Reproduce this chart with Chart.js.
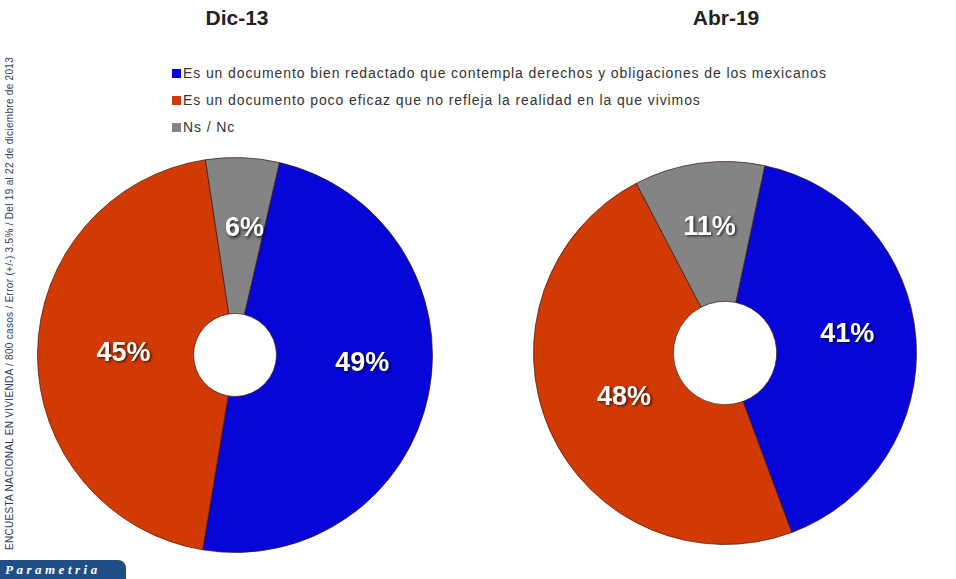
<!DOCTYPE html>
<html>
<head>
<meta charset="utf-8">
<script src="https://cdn.jsdelivr.net/npm/chart.js@4.4.0/dist/chart.umd.min.js"></script>
<style>
  html, body { margin:0; padding:0; background:#fff; }
  body { width:956px; height:579px; position:relative; overflow:hidden; font-family:"Liberation Sans Narrow","Liberation Sans",sans-serif; }
  .title { position:absolute; top:6px; font: bold 21px "Liberation Sans Narrow","Liberation Sans",sans-serif; color:#222; transform:translateX(-50%); }
  #legend { position:absolute; left:172px; top:63px; font-size:14px; color:#333; letter-spacing:0.9px; }
  #legend div { height:27px; line-height:20px; white-space:nowrap; }
  #legend span.sw { display:inline-block; width:9px; height:9px; margin-right:2px; vertical-align:0px; }
  canvas { position:absolute; }
  #side { position:absolute; left:-291px; top:298px; width:600px; transform:rotate(-90deg); font:10px "Liberation Sans Narrow","Liberation Sans",sans-serif; letter-spacing:0.3px; color:#2c3d66; text-align:center; white-space:nowrap; }
  #logo { position:absolute; left:0; top:560px; width:126px; height:20px; background:#1f4f86; border-radius:0 8px 0 0; color:#fff; font:italic bold 13px "Liberation Serif",serif; letter-spacing:3.5px; line-height:20px; padding-left:5px; box-sizing:border-box; }
</style>
</head>
<body>
<div class="title" style="left:237px">Dic-13</div>
<div class="title" style="left:726px">Abr-19</div>
<div id="legend"></div>
<div id="side">ENCUESTA NACIONAL EN VIVIENDA / 800 casos / Error (+/-) 3.5% / Del 19 al 22 de diciembre de 2013</div>
<div id="logo">Parametria</div>
<canvas id="c1" width="396" height="396" style="left:37px;top:157px"></canvas>
<canvas id="c2" width="384" height="384" style="left:533px;top:161px"></canvas>
<script>
const categories = [
  "Es un documento bien redactado que contempla derechos y obligaciones de los mexicanos",
  "Es un documento poco eficaz que no refleja la realidad en la que vivimos",
  "Ns / Nc"
];
const periods = ["Dic-13", "Abr-19"];
const valuesDic13 = [49, 45, 6];
const valuesAbr19 = [41, 48, 11];
const colors = ["#0606D8", "#D23A04", "#848484"];

// legend
const leg = document.getElementById('legend');
categories.forEach((c, i) => {
  const d = document.createElement('div');
  d.innerHTML = '<span class="sw" style="background:' + colors[i] + '"></span>' + c;
  leg.appendChild(d);
});

const labelPlugin = {
  id: 'pctLabels',
  afterDatasetsDraw(chart) {
    const ctx = chart.ctx;
    const meta = chart.getDatasetMeta(0);
    const ds = chart.data.datasets[0];
    ctx.save();
    ctx.font = 'bold 27px "Liberation Sans", sans-serif';
    ctx.textAlign = 'center';
    ctx.textBaseline = 'middle';
    meta.data.forEach((arc, i) => {
      const p = arc.tooltipPosition();
      const off = (chart.options.labelOffsets || [])[i] || [0, 0];
      ctx.shadowColor = 'rgba(0,0,0,0.75)';
      ctx.shadowBlur = 3;
      ctx.shadowOffsetX = 1.5;
      ctx.shadowOffsetY = 1.5;
      ctx.fillStyle = '#fff';
      ctx.fillText(ds.data[i] + '%', p.x + off[0], p.y + off[1]);
    });
    ctx.restore();
  }
};

function makeChart(id, values, cutout, rotation, offsets) {
  return new Chart(document.getElementById(id), {
    type: 'doughnut',
    data: {
      labels: categories,
      datasets: [{
        data: values,
        backgroundColor: colors,
        borderColor: 'rgba(60,20,10,0.7)',
        borderWidth: 1
      }]
    },
    options: {
      responsive: false,
      animation: false,
      cutout: cutout,
      rotation: rotation,
      labelOffsets: offsets,
      layout: { padding: 0 },
      plugins: { legend: { display: false }, tooltip: { enabled: false } }
    },
    plugins: [labelPlugin]
  });
}

makeChart('c1', valuesDic13, '21%', 13, [[10, -15], [8, -1], [5, -7]]);
makeChart('c2', valuesAbr19, '27%', 12, [[1, -10], [10, -5], [1, -5]]);
</script>
</body>
</html>
